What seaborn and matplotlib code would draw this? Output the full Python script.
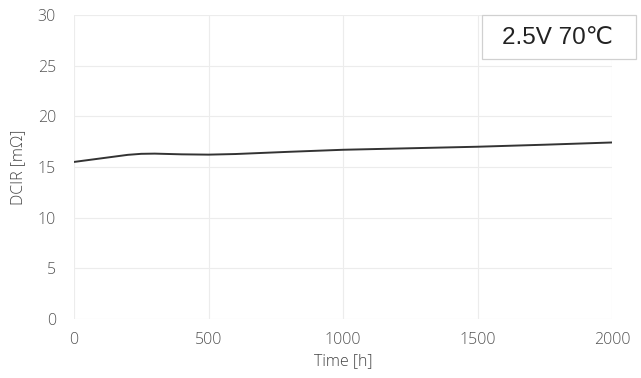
import matplotlib
matplotlib.use("Agg")
import matplotlib.pyplot as plt
import matplotlib.patches as mpatches
import seaborn as sns
import pandas as pd

time_h = [0, 100, 200, 250, 300, 400, 500, 600, 800, 1000, 1250, 1500, 1750, 2000]
dcir = [15.5, 15.85, 16.2, 16.3, 16.32, 16.25, 16.22, 16.28, 16.5, 16.7, 16.85, 17.0, 17.2, 17.42]
x_ticks = [0, 500, 1000, 1500, 2000]
y_ticks = [0, 5, 10, 15, 20, 25, 30]
label_text = "2.5V 70\u2103"

df = pd.DataFrame({"Time": time_h, "DCIR": dcir})

sns.set_style("white")
plt.rcParams["font.family"] = ["Open Sans", "DejaVu Sans"]

fig = plt.figure(figsize=(6.41, 3.78), dpi=100)
ax = fig.add_axes([74/641, 1 - 319/378, (612-74)/641, (319-15)/378])

sns.lineplot(data=df, x="Time", y="DCIR", ax=ax, color="#333333", linewidth=1.4)

ax.set_xlim(0, 2000)
ax.set_ylim(0, 30)
ax.set_xticks(x_ticks)
ax.set_yticks(y_ticks)
ax.grid(True, color="#ececec", linewidth=0.8)
for s in ax.spines.values():
    s.set_visible(False)
ax.tick_params(axis="x", length=0, labelsize=11.5, labelcolor="#555555", pad=9)
ax.tick_params(axis="y", length=0, labelsize=11.5, labelcolor="#555555", pad=13)
for lab in ax.get_xticklabels() + ax.get_yticklabels():
    lab.set_fontweight("light")
ax.set_xlabel("Time [h]", fontsize=11.5, color="#444444", labelpad=4, fontweight="light")
ax.set_ylabel("DCIR [m\u03a9]", fontsize=11.5, color="#444444", labelpad=8, fontweight="light")

rect = mpatches.Rectangle((482/641, 1 - 59/378), 154/641, 44/378, transform=fig.transFigure,
                          facecolor="white", edgecolor="#d0d0d0", linewidth=0.9, zorder=5)
fig.add_artist(rect)
fig.text(557/641, 1 - 38/378, label_text, ha="center", va="center", zorder=6,
         fontsize=17.5, color="#222222", family=["Liberation Sans", "DejaVu Sans"])

fig.savefig("out.png", dpi=100)
